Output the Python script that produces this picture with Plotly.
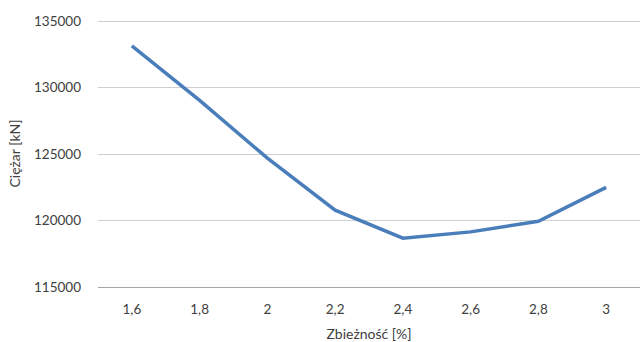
import plotly.graph_objects as go

categories = ["1,6", "1,8", "2", "2,2", "2,4", "2,6", "2,8", "3"]
weights = [133150, 129050, 124700, 120780, 118680, 119150, 119950, 122500]
y_ticks = [115000, 120000, 125000, 130000, 135000]
y_tick_labels = ["115000", "120000", "125000", "130000", "135000"]

font_family = "Lato, 'Open Sans', sans-serif"

fig = go.Figure()
fig.add_trace(go.Scatter(
    x=categories, y=weights, mode="lines",
    line=dict(color="#4A7EBB", width=3.5),
    showlegend=False,
))

fig.update_layout(
    width=640, height=342,
    margin=dict(l=98, r=0, t=20, b=55),
    paper_bgcolor="white", plot_bgcolor="white",
    font=dict(family=font_family, size=13.5, color="#404040"),
    xaxis=dict(
        type="category", range=[-0.5, 7.5],
        showgrid=False, showline=True, linecolor="#A6A6A6", linewidth=1,
        ticks="", ticklabelstandoff=10,
        title=dict(text="Zbieżność [%]", font=dict(size=14, color="#404040"), standoff=13),
    ),
    yaxis=dict(
        range=[115000, 135100], tickvals=y_ticks, ticktext=y_tick_labels,
        showgrid=True, gridcolor="#D0D0D0", gridwidth=1,
        zeroline=False, ticks="", ticklabelstandoff=16,
        title=dict(text="Ciężar [kN]", font=dict(size=14, color="#404040"), standoff=10),
    ),
)

fig.write_html("out.html", config={"displayModeBar": False},
               post_script="document.body.style.margin='0';")
